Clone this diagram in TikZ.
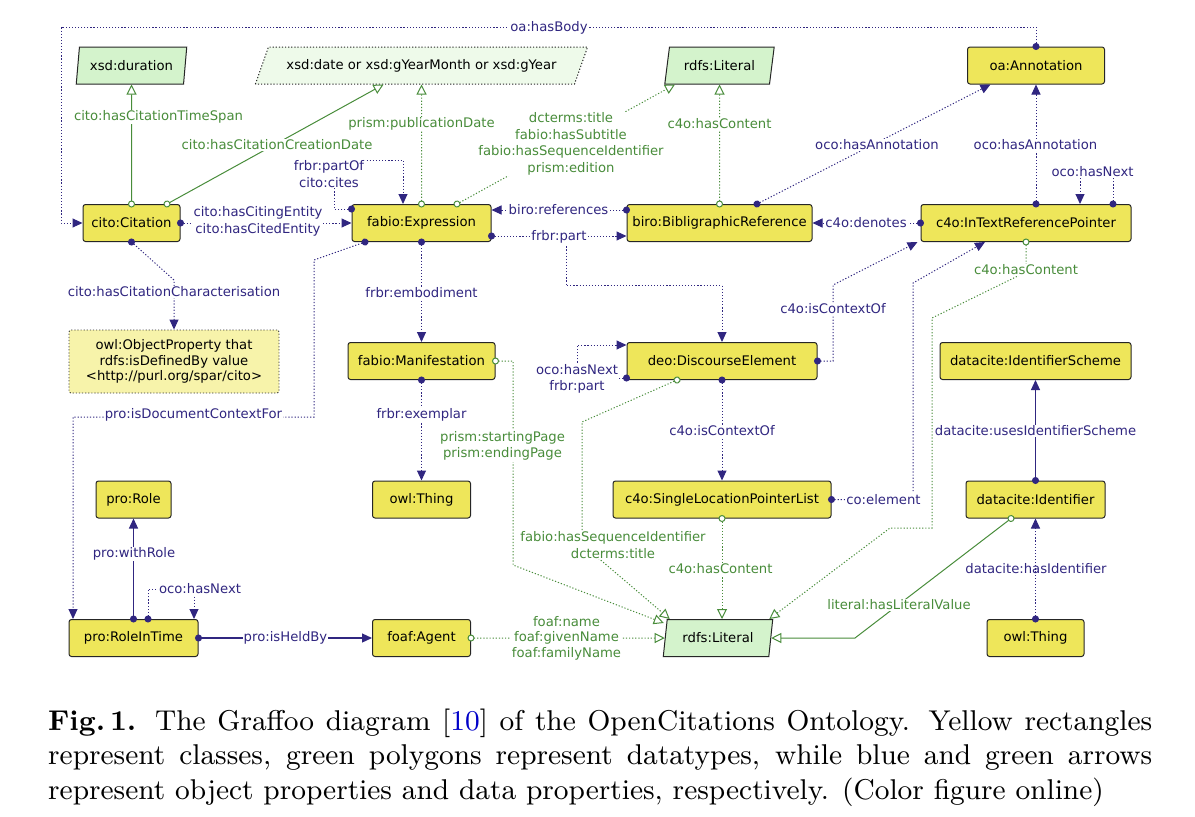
\documentclass[tikz,border=0pt]{standalone}
\usepackage{fontspec}
\newfontfamily\dv{DejaVu Sans}
\usetikzlibrary{arrows.meta,shapes.geometric}
\definecolor{bprop}{RGB}{48,38,128}
\definecolor{gprop}{RGB}{72,140,58}
\definecolor{ycls}{RGB}{238,230,90}
\definecolor{ylight}{RGB}{247,243,170}
\definecolor{gdt}{RGB}{212,243,204}
\definecolor{gdtl}{RGB}{238,250,234}
\definecolor{citeblue}{RGB}{0,0,200}
\tikzset{
  dfont/.style={font=\dv\fontsize{13.2}{16.5}\selectfont},
  cls/.style={dfont, draw=black!85, line width=1pt, fill=ycls, rounded corners=2.5pt, minimum height=37pt, inner sep=0pt},
  dtype/.style={dfont, trapezium, trapezium stretches=true, draw=black!85, line width=1pt, fill=gdt, minimum height=37pt, inner sep=0pt},
  blab/.style={dfont, fill=white, inner sep=1pt, text=bprop, align=center},
  glab/.style={dfont, fill=white, inner sep=1pt, text=gprop, align=center},
  dotl/.style={dash pattern=on 1.2pt off 1.9pt},
  objS/.style={draw=bprop, line width=1.2pt, {Circle[length=7pt]}-{Triangle[length=10pt,width=9pt]}, shorten <=-3.5pt},
  objD/.style={objS, line width=1pt, dotl},
  objN/.style={draw=bprop, line width=1pt, dotl, -{Triangle[length=10pt,width=9pt]}},
  datS/.style={draw=gprop, line width=1pt, {Circle[open,length=7pt,fill=white]}-{Triangle[open,length=10pt,width=10pt,fill=white]}, shorten <=-3.5pt},
  datD/.style={datS, dotl},
}
\begin{document}
\begin{tikzpicture}[x=1pt,y=-1pt]
\useasboundingbox (0,0) rectangle (1195,817);
% ---------- datatypes ----------
\node[dtype, trapezium left angle=76, trapezium right angle=104, minimum width=111pt] (dur) at (131.5,65.5) {xsd:duration};
\node[dtype, dotl, fill=gdtl, trapezium left angle=48, trapezium right angle=132, minimum width=333pt] (date) at (421.5,65.5) {xsd:date or xsd:gYearMonth or xsd:gYear};
\node[dtype, trapezium left angle=72, trapezium right angle=108, minimum width=110pt] (lit1) at (719.5,65.5) {rdfs:Literal};
\node[dtype, trapezium left angle=75, trapezium right angle=105, minimum width=110pt] (lit2) at (718,638) {rdfs:Literal};
% ---------- classes ----------
\node[cls, minimum width=137pt] (ann) at (1036,65.5) {oa:Annotation};
\node[cls, minimum width=97pt] (cit) at (131.5,223) {cito:Citation};
\node[cls, minimum width=139pt] (expr) at (421.5,223) {fabio:Expression};
\node[cls, minimum width=185pt] (bib) at (719.5,223) {biro:BibligraphicReference};
\node[cls, minimum width=210pt] (itrp) at (1026,223) {c4o:InTextReferencePointer};
\node[dfont, draw=black!80, line width=0.9pt, dotl, fill=ylight, rounded corners=2pt, minimum width=210pt, minimum height=63pt, inner sep=0pt, align=center, font=\dv\fontsize{13.2}{15.5}\selectfont] (objp) at (174,361.5) {owl:ObjectProperty that\\rdfs:isDefinedBy value\\<http://purl.org/spar/cito>};
\node[cls, minimum width=147pt] (man) at (421.5,361) {fabio:Manifestation};
\node[cls, minimum width=190pt] (deo) at (722,361) {deo:DiscourseElement};
\node[cls, minimum width=191pt] (dsch) at (1035.5,361) {datacite:IdentifierScheme};
\node[cls, minimum width=75pt] (role) at (133.5,499.5) {pro:Role};
\node[cls, minimum width=98pt] (thing1) at (421.5,499.5) {owl:Thing};
\node[cls, minimum width=218pt] (slpl) at (722,499.5) {c4o:SingleLocationPointerList};
\node[cls, minimum width=139pt] (did) at (1035.5,499.5) {datacite:Identifier};
\node[cls, minimum width=129pt] (rit) at (133.5,638) {pro:RoleInTime};
\node[cls, minimum width=98pt] (agent) at (421.5,638) {foaf:Agent};
\node[cls, minimum width=97pt] (thing2) at (1035.5,638) {owl:Thing};
% ---------- helper coordinates ----------
\coordinate (hb) at (61,27);
\coordinate (pbr) at (566,237);
% ---------- object properties ----------
\draw[objD] (ann.north) |- (hb) |- (cit.west);
\draw[objD] (cit.east) -- (expr.west);
\draw[objD] ([yshift=-5pt]expr.north west) -| (334,160) -| ([xshift=-18.5pt]expr.north);
\draw[objD] (cit.south) -- (174,280) -- (objp.north);
\draw[objD] ([xshift=-56.5pt]expr.south) -- (314,260) |- (73,417) -- ([xshift=-60.5pt]rit.north);
\draw[objD] (expr.south) -- (man.north);
\draw[objD] (man.south) -- (thing1.north);
\draw[objD] ([yshift=13pt]bib.west) -- ([yshift=13pt]expr.east);
\draw[objD] ([yshift=-13pt]expr.east) -- ([yshift=-13pt]bib.west);
\draw[objN] (pbr) |- ([yshift=56.5pt]deo.north) -- (deo.north);
\draw[objD] ([xshift=37.5pt]bib.north) -- ([xshift=-45.5pt]ann.south);
\draw[objD] ([xshift=10pt]itrp.north) -- (ann.south);
\draw[objD] ([xshift=87pt]itrp.north) |- (1080,172) -- ([xshift=54pt]itrp.north);
\draw[objD] (itrp.west) -- (bib.east);
\draw[objD] (deo.east) -| (833,285) -- ([xshift=-3pt]itrp.south west);
\draw[objD] (slpl.east) -| (913,283) -- ([xshift=-41pt]itrp.south);
\draw[objD] (deo.south) -- (slpl.north);
\draw[objD] ([yshift=-17pt]deo.west) -- (577,378) |- ([yshift=16pt]deo.west);
\draw[objS] (did.north) -- (dsch.south);
\draw[objD] (thing2.north) -- (did.south);
\draw[objS] (rit.north) -- (role.south);
\draw[objD] ([xshift=14.5pt]rit.north) |- (194,589) -- ([xshift=60.5pt]rit.north);
\draw[objS] (rit.east) -- (agent.west);
% ---------- data properties ----------
\draw[datS] (cit.north) -- (dur.south);
\draw[datS] ([xshift=35.5pt]cit.north) -- ([xshift=-38pt]date.south);
\draw[datD] (expr.north) -- (date.south);
\draw[datD] ([xshift=35.5pt]expr.north) -- ([xshift=-44.5pt]lit1.south);
\draw[datD] (bib.north) -- (lit1.south);
\draw[datD] (itrp.south) -- (1026,272) -- (932,318) -- (932,528) -- (890,528) -- ([xshift=-4pt]lit2.top right corner);
\draw[datD] (man.east) -| (513,565) -- ([xshift=-3pt,yshift=-4pt]lit2.top left corner);
\draw[datD] ([xshift=-45pt]deo.south) -- (582,422) -- (582,545) -- (603,562) -- ([xshift=3pt]lit2.top left corner);
\draw[datD] (slpl.south) -- (slpl.south |- lit2.north);
\draw[datD] (agent.east) -- (lit2.west);
\draw[datS] ([xshift=-24.5pt]did.south) -- (855,638) -- (lit2.east);
% ---------- labels ----------
\node[glab] (l11) at (571,144) {dcterms:title\\fabio:hasSubtitle\\fabio:hasSequenceIdentifier\\prism:edition};
\node[blab] (l1) at (549,28) {oa:hasBody};
\node[blab] (l2) at (258,221.5) {cito:hasCitingEntity\\cito:hasCitedEntity};
\node[blab] (l3) at (329,174) {frbr:partOf\\cito:cites};
\node[blab] (l4) at (174,292) {cito:hasCitationCharacterisation};
\node[blab] (l5) at (193.5,415) {pro:isDocumentContextFor};
\node[blab] (l6) at (421.5,293) {frbr:embodiment};
\node[blab] (l7) at (421.5,415) {frbr:exemplar};
\node[glab] (l8) at (421.5,124) {prism:publicationDate};
\node[glab] (l9) at (158.5,117) {cito:hasCitationTimeSpan};
\node[glab] (l10) at (277,145) {cito:hasCitationCreationDate};
\node[glab] (l12) at (719.5,124) {c4o:hasContent};
\node[blab] (l13) at (558.5,210) {biro:references};
\node[blab] (l14) at (559,237) {frbr:part};
\node[blab] (l15) at (877,145) {oco:hasAnnotation};
\node[blab] (l16) at (1035.5,145) {oco:hasAnnotation};
\node[blab] (l17) at (1092.5,172) {oco:hasNext};
\node[blab] (l18) at (866,223) {c4o:denotes};
\node[blab] (l19) at (833,309) {c4o:isContextOf};
\node[blab] (l20) at (883.5,499.5) {co:element};
\node[glab] (l21) at (1026,270) {c4o:hasContent};
\node[blab] (l22) at (722,431) {c4o:isContextOf};
\node[blab] (l23) at (577,379) {oco:hasNext\\frbr:part};
\node[glab] (l24) at (502.5,446) {prism:startingPage\\prism:endingPage};
\node[glab] (l25) at (613,545) {fabio:hasSequenceIdentifier\\dcterms:title};
\node[glab] (l26) at (720.5,569) {c4o:hasContent};
\node[glab, font=\dv\fontsize{13.2}{15.5}\selectfont] (l27) at (566.5,638) {foaf:name\\foaf:givenName\\foaf:familyName};
\node[glab] (l28) at (899,605) {literal:hasLiteralValue};
\node[blab] (l29) at (1035.5,431) {datacite:usesIdentifierScheme};
\node[blab, fill=none] (l30) at (1036,569) {datacite:hasIdentifier};
\node[blab] (l31) at (134,554) {pro:withRole};
\node[blab] (l32) at (200,589) {oco:hasNext};
\node[blab] (l33) at (285.5,638) {pro:isHeldBy};
% ---------- caption ----------
\node[anchor=base west, inner sep=0pt] (cap) at (48,730) {\scalebox{3.18}{\parbox[t]{347.2pt}{\fontsize{9}{11}\selectfont\textbf{Fig.\,1.} The Graffoo diagram [{\color{citeblue}10}] of the OpenCitations Ontology. Yellow rectangles represent classes, green polygons represent datatypes, while blue and green arrows represent object properties and data properties, respectively. (Color figure online)}}};
\end{tikzpicture}
\end{document}
